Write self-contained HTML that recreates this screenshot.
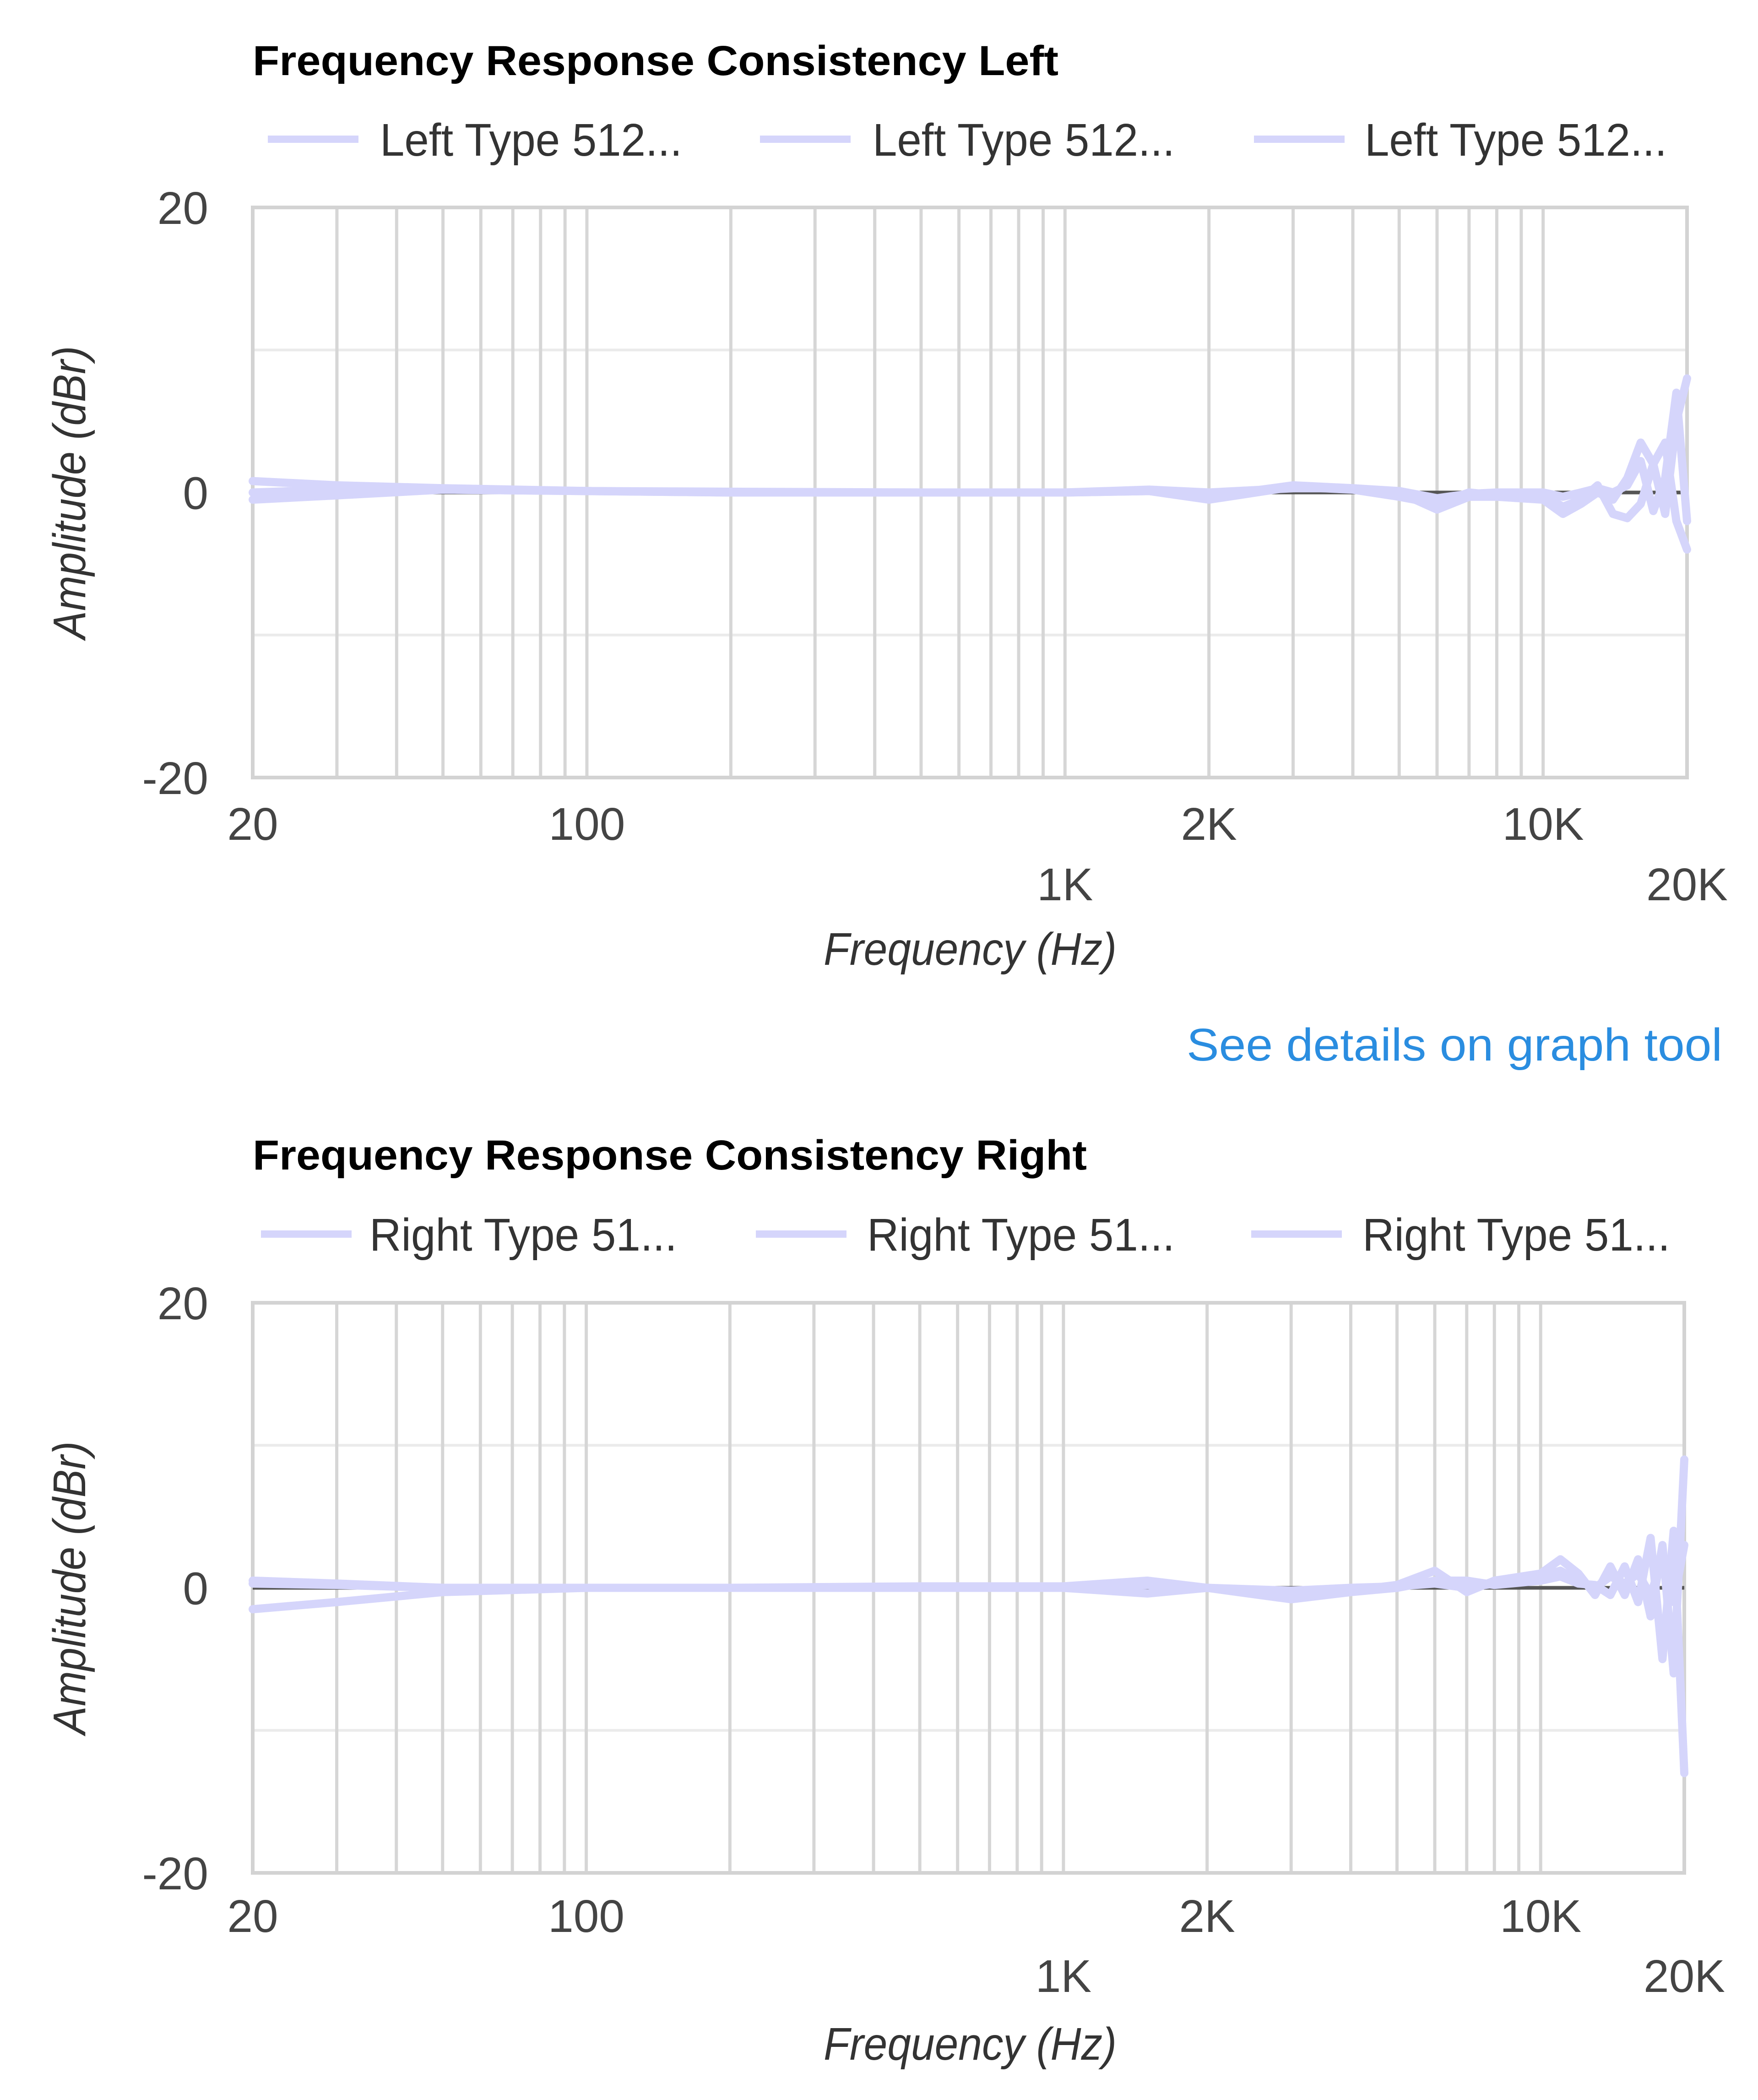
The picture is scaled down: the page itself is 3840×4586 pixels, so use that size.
<!DOCTYPE html>
<html><head><meta charset="utf-8">
<style>
html,body{margin:0;padding:0;background:#fff;}
svg{display:block;font-family:"Liberation Sans",Arial,sans-serif;}
</style></head>
<body>
<svg id="root" width="3840" height="4586" viewBox="0 0 3840 4586" xmlns="http://www.w3.org/2000/svg">
  <text x="552" y="164" font-size="92" font-weight="bold" fill="#000" textLength="1760" lengthAdjust="spacingAndGlyphs">Frequency Response Consistency Left</text>
  <text x="552" y="2554" font-size="92" font-weight="bold" fill="#000" textLength="1822" lengthAdjust="spacingAndGlyphs">Frequency Response Consistency Right</text>
  <text x="3762" y="2316" font-size="100" fill="#2a8de0" text-anchor="end" textLength="1170" lengthAdjust="spacingAndGlyphs">See details on graph tool</text>
  <g id="chartL"></g>
  <g id="chartR"></g>
</svg>
<script>
// shared frequency axis (Hz)
const freqs = [20,30,50,100,200,500,1000,1500,2000,3000,4000,5000,6000,7000,8000,10000,11000,12000,13000,14000,15000,16000,17000,18000,19000,20000];
// Left channel series (dBr)
const left1 = [0.8,0.5,0.3,0.1,0.05,0,0,0.1,-0.3,0.5,0.3,0,-1.2,-0.3,-0.3,-0.5,-1.5,-0.8,0,-0.5,1.0,3.5,2.0,-1.5,5.0,8.0];
const left2 = [-0.5,-0.2,0.2,0.1,0,0,0,0.1,-0.5,0.4,0.2,-0.3,-0.8,0,-0.2,-0.2,-1.0,-0.5,0.5,-1.5,-1.8,-0.8,2.0,3.5,-2.0,-4.0];
const left3 = [0,0.2,0.2,0.1,0,0,0,0.2,0,0.3,0.3,0.1,-0.4,-0.1,0,0,-0.3,0,0.3,0,0.5,2.2,-1.3,1.0,7.0,-2.0];
// Right channel series (dBr)
const right1 = [0.5,0.3,0,0,0,0.1,0.1,0.5,0,-0.3,-0.2,0.2,1.2,-0.3,0.5,1.0,2.0,1.0,-0.5,1.5,-0.5,2.0,-2.0,3.0,-6.0,9.0];
const right2 = [-1.5,-1.0,-0.3,0,0,0,0,-0.4,0,-0.8,-0.3,0,0.5,0.5,0.2,0.5,0.8,0.3,0.2,-0.5,1.5,-1.0,3.5,-5.0,4.0,-13.0];
const right3 = [0.3,0.2,0,0,0,0,0.1,0.2,0,-0.2,0,0.1,0.3,0,0.3,0.8,1.2,0.5,0,0.8,0.3,1.0,-0.5,2.0,-1.0,3.0];
// axis ticks
const gridFreqs = [30,40,50,60,70,80,90,100,200,300,400,500,600,700,800,900,1000,2000,3000,4000,5000,6000,7000,8000,9000,10000];
const xTickVals = [20,100,2000,10000,1000,20000];
const xTickLabels = ['20','100','2K','10K','1K','20K'];
const xTickRow = [0,0,0,0,1,1];
const yTickVals = [20,0,-20];
const yTickLabels = ['20','0','-20'];
const yGridVals = [10,-10];

const NS = 'http://www.w3.org/2000/svg';
function mk(parent, tag, attrs, text){
  const e = document.createElementNS(NS, tag);
  for (const k in attrs) e.setAttribute(k, attrs[k]);
  if (text !== undefined) e.textContent = text;
  parent.appendChild(e);
  return e;
}

function drawChart(g, cfg){
  const L = cfg.left, R = cfg.right, T = cfg.top, B = cfg.bottom;
  const xs = f => L + (Math.log10(f) - Math.log10(20)) / (Math.log10(20000) - Math.log10(20)) * (R - L);
  const ys = v => T + (20 - v) / 40 * (B - T);

  yGridVals.forEach(v => {
    const l = mk(g, 'line', {x1:L, x2:R, y1:ys(v), y2:ys(v), stroke:'#ebebeb', 'stroke-width':6});
    
    
  });
  gridFreqs.forEach(f => {
    const l = mk(g, 'line', {x1:xs(f), x2:xs(f), y1:T, y2:B, stroke:'#d6d6d6', 'stroke-width':7});
    
    
  });
  const bd = mk(g, 'rect', {x:L, y:T, width:R-L, height:B-T, fill:'none', stroke:'#d3d3d3', 'stroke-width':8});
  
  
  const z = mk(g, 'line', {x1:L, x2:R, y1:ys(0), y2:ys(0), stroke:'#555', 'stroke-width':8});
  
  
  cfg.series.forEach((s, i) => {
    const d = s.map((v, k) => (k ? 'L' : 'M') + xs(freqs[k]).toFixed(1) + ' ' + ys(v).toFixed(1)).join(' ');
    const p = mk(g, 'path', {d:d, fill:'none', stroke:'#d5d5fb', 'stroke-width':18, 'stroke-linejoin':'round', 'stroke-linecap':'round'});
    
    
  });
  yTickVals.forEach((v, i) => {
    const t = mk(g, 'text', {x:455, y:ys(v) + 36, 'font-size':100, fill:'#444', 'text-anchor':'end'}, yTickLabels[i]);
    
    
  });
  xTickVals.forEach((f, i) => {
    const t = mk(g, 'text', {x:xs(f), y:cfg.xRow[xTickRow[i]], 'font-size':100, fill:'#444', 'text-anchor':'middle'}, xTickLabels[i]);
    
    
  });
  const xt = mk(g, 'text', {x:2119, y:cfg.xTitleY, 'font-size':100, 'font-style':'italic', fill:'#333', 'text-anchor':'middle', textLength:640, lengthAdjust:'spacingAndGlyphs'}, 'Frequency (Hz)');
  
  
  const cy = (T + B) / 2;
  const yt = mk(g, 'text', {x:0, y:0, 'font-size':100, 'font-style':'italic', fill:'#333', 'text-anchor':'middle', textLength:640, lengthAdjust:'spacingAndGlyphs', transform:'translate(186 ' + cy + ') rotate(-90)'}, 'Amplitude (dBr)');
  
  
  cfg.legend.forEach((e, i) => {
    const lg = mk(g, 'g', {});
    
    
    mk(lg, 'line', {x1:e[0], x2:e[0] + 198, y1:cfg.legendY, y2:cfg.legendY, stroke:'#d5d5fb', 'stroke-width':16});
    mk(lg, 'text', {x:e[1], y:cfg.legendY + 36, 'font-size':100, fill:'#333', textLength:cfg.legendW, lengthAdjust:'spacingAndGlyphs'}, cfg.legendText);
  });
}

drawChart(document.getElementById('chartL'), {
  left:552, right:3685, top:453, bottom:1698,
  series:[left1, left2, left3], prefix:'left',
  xRow:[1834, 1966], xTitleY:2107,
  legendY:304, legendW:660, legendText:'Left Type 512...',
  legend:[[585, 830], [1660, 1906], [2739, 2981]]
});
drawChart(document.getElementById('chartR'), {
  left:552, right:3679, top:2845, bottom:4090,
  series:[right1, right2, right3], prefix:'right',
  xRow:[4219, 4350], xTitleY:4498,
  legendY:2695, legendW:672, legendText:'Right Type 51...',
  legend:[[570, 807], [1651, 1894], [2733, 2976]]
});
</script>
</body></html>
